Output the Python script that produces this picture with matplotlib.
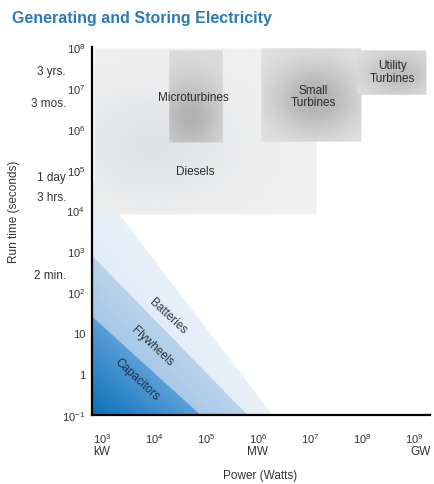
import numpy as np
import matplotlib
matplotlib.use("Agg")
import matplotlib.pyplot as plt
from matplotlib.colors import LinearSegmentedColormap
from matplotlib.patches import Polygon

plt.rcParams['font.family'] = ['Liberation Sans', 'DejaVu Sans']
plt.rcParams['mathtext.default'] = 'regular'

# axis ticks (powers of ten)
power_exp = [3, 4, 5, 6, 7, 8, 9]
runtime_exp = [-1, 0, 1, 2, 3, 4, 5, 6, 7, 8]

# generating technologies: power range (W) and run-time range (s)
gen_names = ["Diesels", "Microturbines", "Small\nTurbines", "Utility\nTurbines"]
gen_power_lo = [10**2.87, 10**4.31, 10**6.08, 10**7.92]
gen_power_hi = [10**7.12, 10**5.31, 10**7.98, 10**9.23]
gen_time_lo = [10**3.92, 10**5.68, 10**5.70, 10**6.85]
gen_time_hi = [10**7.95, 10**7.90, 10**7.95, 10**7.90]

# storage technologies: run time at the low-power edge, power at 0.1 s
store_names = ["Batteries", "Flywheels", "Capacitors"]
store_time_max = [10**4.77, 10**2.89, 10**1.40]
store_power_max = [10**6.27, 10**5.79, 10**4.88]

# everyday time marks on the run-time axis
time_marks = ["3 yrs.", "3 mos.", "1 day", "3 hrs.", "2 min."]
time_mark_vals = [10**7.41, 10**6.63, 10**4.82, 10**4.33, 10**2.43]

unit_marks = ["kW", "MW", "GW"]
unit_mark_vals = [1e3, 1e6, 1e9]

XMIN, XMAX = 10**2.81, 10**9.31
YMIN, YMAX = 1e-1, 1e8

fig = plt.figure(figsize=(4.35, 4.85), dpi=100)
ax = fig.add_axes([0.2115, 0.1423, 0.777, 0.7588])
ax.set_xscale('log')
ax.set_yscale('log')
ax.set_xlim(XMIN, XMAX)
ax.set_ylim(YMIN, YMAX)


def blob(x0, x1, y0, y1, cx, cy, sx, sy, base, dark, z, alpha=1.0):
    lx = np.linspace(np.log10(x0), np.log10(x1), 80)
    ly = np.linspace(np.log10(y0), np.log10(y1), 80)
    X, Y = np.meshgrid(lx, ly)
    Z = np.exp(-(((X - cx) / sx) ** 2 + ((Y - cy) / sy) ** 2))
    cmap = LinearSegmentedColormap.from_list('g', [base, dark])
    ax.pcolormesh(10**X, 10**Y, Z, cmap=cmap, vmin=0, vmax=1,
                  shading='gouraud', zorder=z, alpha=alpha, rasterized=True)


# storage wedges, lightest and largest first
store_cols = [("#d3e3f3", "#e8f0f9"), ("#86b3de", "#b9d3ec"), ("#0a6fbb", "#5a9fd6")]
for i in range(3):
    tmax, pmax = store_time_max[i], store_power_max[i]
    tri = Polygon([(XMIN, tmax), (pmax, YMIN), (XMIN, YMIN)], closed=True,
                  facecolor='none', edgecolor='none', transform=ax.transData)
    ax.add_patch(tri)
    lx = np.linspace(np.log10(XMIN), np.log10(pmax), 60)
    ly = np.linspace(np.log10(YMIN), np.log10(tmax), 60)
    X, Y = np.meshgrid(lx, ly)
    U = (X - lx[0]) / (lx[-1] - lx[0]) + (Y - ly[0]) / (ly[-1] - ly[0])
    cmap = LinearSegmentedColormap.from_list('s', list(store_cols[i]))
    m = ax.pcolormesh(10**X, 10**Y, U, cmap=cmap, vmin=0, vmax=1,
                      shading='gouraud', zorder=1 + i * 0.1, rasterized=True)
    m.set_clip_path(tri)

# generating boxes with soft shading
blob(gen_power_lo[0], gen_power_hi[0], gen_time_lo[0], gen_time_hi[0],
     4.0, 5.6, 1.6, 1.4, "#f0f0f0", "#e0e3e6", 2, alpha=0.93)
blob(gen_power_lo[1], gen_power_hi[1], gen_time_lo[1], gen_time_hi[1],
     4.7, 6.3, 0.6, 0.9, "#dcdcdc", "#b2b2b2", 3)
blob(gen_power_lo[2], gen_power_hi[2], gen_time_lo[2], gen_time_hi[2],
     7.1, 6.75, 0.8, 0.85, "#e2e2e2", "#b0b0b0", 3)
blob(gen_power_lo[3], gen_power_hi[3], gen_time_lo[3], gen_time_hi[3],
     8.7, 7.35, 0.6, 0.5, "#dedede", "#bcbcbc", 4)

txt = dict(fontsize=8.5, color='#2b2b2b', ha='center', va='center', zorder=6)
ax.text(10**4.79, 10**4.97, gen_names[0], **txt)
ax.text(10**4.75, 10**6.78, gen_names[1], **txt)
ax.text(10**7.06, 10**6.80, gen_names[2], linespacing=1.1, **txt)
ax.text(10**8.58, 10**7.41, gen_names[3], linespacing=1.1, **txt)

rot = dict(fontsize=8.5, ha='center', va='center', rotation=-43, zorder=6,
           rotation_mode='anchor')
ax.text(10**4.27, 10**1.42, store_names[0], color='#2e3440', **rot)
ax.text(10**3.96, 10**0.69, store_names[1], color='#26303c', **rot)
ax.text(10**3.67, 10**-0.12, store_names[2], color='#1b3150', **rot)

# axes styling
for s in ['top', 'right']:
    ax.spines[s].set_visible(False)
for s in ['left', 'bottom']:
    ax.spines[s].set_linewidth(1.6)
    ax.spines[s].set_color('black')
    ax.spines[s].set_zorder(7)

def exp_label(e):
    if e == 0:
        return "1"
    if e == 1:
        return "10"
    return r"$10^{%d}$" % e

ax.set_xticks([10.0**e for e in power_exp])
ax.set_xticklabels([exp_label(e) for e in power_exp])
ax.set_yticks([10.0**e for e in runtime_exp])
ax.set_yticklabels([exp_label(e) for e in runtime_exp])
ax.minorticks_off()
ax.tick_params(axis='x', length=0, pad=12, labelsize=8, labelcolor='#333333')
ax.tick_params(axis='y', length=0, pad=5, labelsize=8, labelcolor='#333333')

ytr = ax.get_yaxis_transform()
for name, v in zip(time_marks, time_mark_vals):
    ax.text(-0.077, v, name, transform=ytr, ha='right', va='center',
            fontsize=8.5, color='#333333', clip_on=False)

xtr = ax.get_xaxis_transform()
for name, v in zip(unit_marks, unit_mark_vals):
    ha = 'center'
    xv = v
    if name == "GW":
        ha = 'right'
        xv = v * 10**0.33
    ax.text(xv, -0.098, name, transform=xtr, ha=ha, va='center',
            fontsize=8.5, color='#333333', clip_on=False)
ax.text(10**6.05, -0.162, "Power (Watts)", transform=xtr, ha='center',
        va='center', fontsize=8.5, color='#333333', clip_on=False)

fig.text(14 / 435, 1 - 212 / 485, "Run time (seconds)", rotation=90,
         ha='center', va='center', fontsize=8.5, color='#333333')

fig.text(12 / 435, 1 - 18 / 485, "Generating and Storing Electricity",
         ha='left', va='center', fontsize=11.5, fontweight='bold',
         color='#2a7ab9')

fig.savefig("out.png", dpi=100)
